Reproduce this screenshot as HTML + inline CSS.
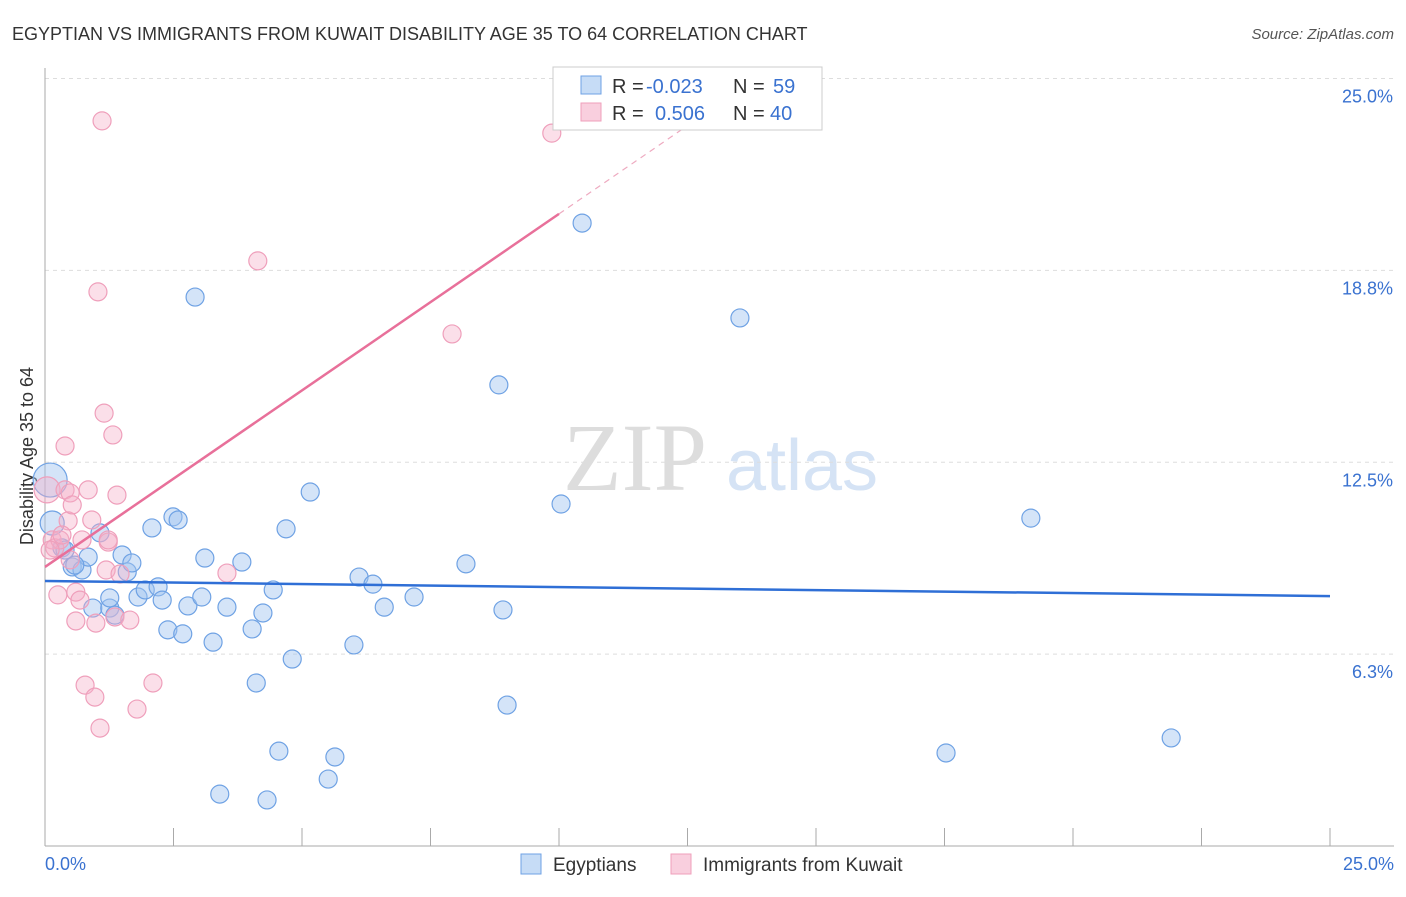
<!DOCTYPE html>
<html><head><meta charset="utf-8"><style>
body{margin:0;background:#fff;font-family:"Liberation Sans",sans-serif}
</style></head><body>
<svg id="c" width="1406" height="892" xmlns="http://www.w3.org/2000/svg"></svg>
<script>
const blueX=[0.10,0.14,0.33,0.53,0.72,0.84,0.93,1.07,1.26,1.36,1.50,1.60,1.69,1.81,1.95,2.08,2.20,2.28,2.39,2.49,2.59,2.68,2.78,2.92,3.05,3.11,3.27,3.40,3.54,3.83,4.03,4.11,4.24,4.32,4.44,4.55,4.69,4.81,5.16,5.51,5.64,6.01,6.11,6.38,6.60,7.18,8.19,8.83,8.91,8.99,10.04,10.45,13.52,17.53,19.18,21.91,0.58,0.39,1.26];
const blueY=[11.92,10.52,9.71,9.09,8.99,9.41,7.75,10.20,7.75,7.52,9.48,8.93,9.22,8.11,8.34,10.36,8.44,8.01,7.04,10.72,10.62,6.91,7.82,17.88,8.11,9.38,6.64,1.69,7.78,9.25,7.07,5.31,7.59,1.50,8.34,3.09,10.33,6.09,11.53,2.18,2.90,6.55,8.76,8.53,7.78,8.11,9.19,15.02,7.69,4.59,11.14,20.29,17.20,3.03,10.68,3.52,9.15,9.64,8.08];
const pinkX=[0.04,0.14,0.19,0.25,0.29,0.39,0.39,0.45,0.49,0.53,0.60,0.60,0.72,0.78,0.84,0.91,0.97,0.99,1.03,1.07,1.11,1.15,1.19,1.23,1.32,1.36,1.40,1.46,1.65,1.79,2.10,3.54,4.14,7.92,9.86,0.10,0.33,1.23,0.68,0.49];
const pinkY=[11.60,9.97,9.71,8.18,9.97,13.03,11.60,10.59,11.50,11.11,8.27,7.33,9.97,5.24,11.60,10.62,4.85,7.26,18.05,3.84,23.62,14.10,8.99,9.90,13.39,7.46,11.43,8.86,7.36,4.46,5.31,8.89,19.06,16.68,23.22,9.64,10.13,9.97,8.01,9.32];
const yTicks=[6.25,12.5,18.75,25];
const yTickLabels=["6.3%","12.5%","18.8%","25.0%"];
const blueTrend=[8.63,8.14];
const pinkTrend=[9.09,1.15];
const NS="http://www.w3.org/2000/svg",svg=document.getElementById('c');
const X=v=>45+v*51.4, Y=v=>846-v*30.7;
function mk(t,a,p){const e=document.createElementNS(NS,t);for(const k in a)e.setAttribute(k,a[k]);(p||svg).appendChild(e);return e;}
function tx(s,a){const e=mk('text',a);e.textContent=s;return e;}
let t=tx('EGYPTIAN VS IMMIGRANTS FROM KUWAIT DISABILITY AGE 35 TO 64 CORRELATION CHART',{x:12,y:40,'font-size':18,fill:'#333'});

t=tx('Source: ZipAtlas.com',{x:1394,y:39,'font-size':15,fill:'#555','text-anchor':'end','font-style':'italic'});

t=tx('ZIP',{x:635,y:490,'font-size':96,fill:'#ddd','font-family':'Liberation Serif','text-anchor':'middle'});

t=tx('atlas',{x:802,y:490,'font-size':72,fill:'#d5e3f5','text-anchor':'middle'});

yTicks.forEach((v,i)=>{let l=mk('line',{x1:45,x2:1394,y1:Y(v),y2:Y(v),stroke:'#ddd','stroke-dasharray':'4,4'});

let e=tx(yTickLabels[i],{x:1393,y:Y(v)+24,'font-size':18,fill:'#3a72d0','text-anchor':'end'});
});
let ax=mk('line',{x1:45,x2:45,y1:68,y2:846,stroke:'#aaa'});
ax=mk('line',{x1:45,x2:1394,y1:846,y2:846,stroke:'#aaa'});
for(let i=0;i<=10;i++){let l=mk('line',{x1:X(i*2.5),x2:X(i*2.5),y1:828,y2:846,stroke:'#aaa'});}
t=tx('0.0%',{x:45,y:870,'font-size':18,fill:'#3a72d0'});
t=tx('25.0%',{x:1394,y:870,'font-size':18,fill:'#3a72d0','text-anchor':'end'});
t=tx('Disability Age 35 to 64',{x:0,y:0,'font-size':18,fill:'#333','text-anchor':'middle',transform:'translate(33,456) rotate(-90)'});

blueX.forEach((v,i)=>{let c=mk('circle',{cx:X(v),cy:Y(blueY[i]),r:i<2?(i==0?17:12):9,fill:'rgba(160,196,240,0.45)',stroke:'#6fa2e4','stroke-width':1.2});
});
pinkX.forEach((v,i)=>{let c=mk('circle',{cx:X(v),cy:Y(pinkY[i]),r:i==0?13:9,fill:'rgba(245,175,200,0.4)',stroke:'#ef9fbb','stroke-width':1.2});
});
let l=mk('line',{x1:X(0),x2:X(25),y1:Y(blueTrend[0]),y2:Y(blueTrend[1]),stroke:'#2f6fd6','stroke-width':2.5});

const xe=(25-pinkTrend[0])/pinkTrend[1];
l=mk('line',{x1:X(0),x2:X(10),y1:Y(pinkTrend[0]),y2:Y(pinkTrend[0]+10*pinkTrend[1]),stroke:'#e8709a','stroke-width':2.5});

l=mk('line',{x1:X(10),x2:X(xe),y1:Y(pinkTrend[0]+10*pinkTrend[1]),y2:Y(25),stroke:'#eeaac0','stroke-width':1.2,'stroke-dasharray':'6,5'});

let g=mk('g',{});
mk('rect',{x:553,y:67,width:269,height:63,fill:'#fff',stroke:'#ccc'},g);
mk('rect',{x:581,y:76,width:20,height:18,fill:'rgba(160,196,240,0.6)',stroke:'#6fa2e4'},g);
mk('rect',{x:581,y:103,width:20,height:18,fill:'rgba(245,175,200,0.6)',stroke:'#ef9fbb'},g);
[['R = ',612,93,'#333'],['-0.023',646,93,'#3a72d0'],['N = ',733,93,'#333'],['59',773,93,'#3a72d0'],['R = ',612,120,'#333'],['0.506',655,120,'#3a72d0'],['N = ',733,120,'#333'],['40',770,120,'#3a72d0']].forEach(a=>{let e=tx(a[0],{x:a[1],y:a[2],'font-size':20,fill:a[3]});g.appendChild(e);});
let g2=mk('g',{});
mk('rect',{x:521,y:854,width:20,height:20,fill:'rgba(160,196,240,0.6)',stroke:'#6fa2e4'},g2);
g2.appendChild(tx('Egyptians',{x:553,y:871,'font-size':19,fill:'#333'}));
mk('rect',{x:671,y:854,width:20,height:20,fill:'rgba(245,175,200,0.6)',stroke:'#ef9fbb'},g2);
g2.appendChild(tx('Immigrants from Kuwait',{x:703,y:871,'font-size':19,fill:'#333'}));
</script>
</body></html>
